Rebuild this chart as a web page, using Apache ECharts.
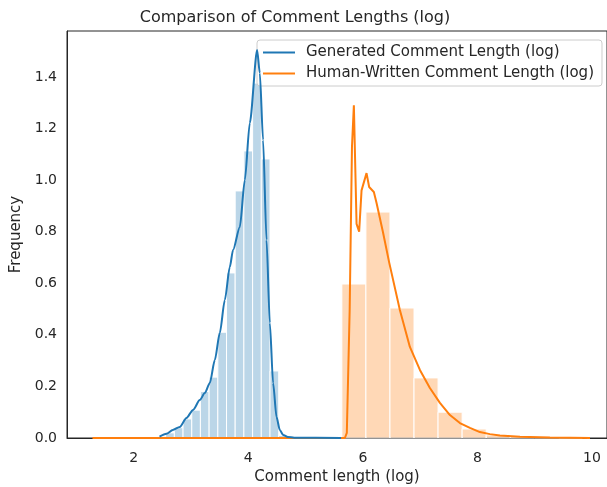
<!DOCTYPE html>
<html>
<head>
<meta charset="utf-8">
<script src="https://cdn.jsdelivr.net/npm/echarts@6/dist/echarts.min.js"></script>
<style>
  html, body { margin: 0; padding: 0; background: #fff; }
  #main { width: 607px; height: 487px; }
</style>
</head>
<body>
<div id="main"></div>
<script>
// histogram bins (edges) and heights
var blueEdges = [2.406, 2.557, 2.709, 2.861, 3.013, 3.164, 3.316, 3.468, 3.620, 3.771, 3.923, 4.075, 4.227, 4.379, 4.531, 4.682];
var blueFreq = [0.005, 0.02, 0.04, 0.074, 0.108, 0.18, 0.236, 0.41, 0.64, 0.958, 1.113, 1.376, 1.082, 0.26, 0.01];
var orangeEdges = [5.633, 6.053, 6.473, 6.893, 7.313, 7.733, 8.153, 8.573, 8.993, 9.413, 9.833];
var orangeFreq = [0.597, 0.876, 0.504, 0.233, 0.10, 0.035, 0.012, 0.005, 0.002, 0.001];

// density curves
var blueX = [2.45, 2.571, 2.681, 2.803, 2.921, 3.036, 3.153, 3.240, 3.328, 3.415, 3.502, 3.590, 3.677, 3.734, 3.852, 3.939, 4.026, 4.154, 4.201, 4.258, 4.318, 4.376, 4.433, 4.493, 4.550, 4.608, 4.690, 4.8, 5.62];
var blueY = [0.005, 0.016, 0.031, 0.043, 0.078, 0.109, 0.147, 0.174, 0.213, 0.302, 0.407, 0.535, 0.663, 0.729, 0.818, 1.0, 1.221, 1.504, 1.415, 1.155, 0.768, 0.446, 0.213, 0.081, 0.031, 0.012, 0.004, 0.001, 0];
var orangeX = [1.28, 5.686, 5.72, 5.77, 5.81, 5.843, 5.858, 5.89, 5.935, 5.977, 6.064, 6.11, 6.192, 6.24, 6.354, 6.46, 6.646, 6.821, 6.996, 7.17, 7.345, 7.52, 7.694, 7.869, 8.043, 8.218, 8.393, 8.742, 9.266, 9.965];
var orangeY = [0, 0, 0.02, 0.5, 1.13, 1.29, 1.29, 0.83, 0.8, 0.96, 1.027, 0.973, 0.954, 0.91, 0.795, 0.68, 0.496, 0.353, 0.264, 0.194, 0.136, 0.089, 0.058, 0.039, 0.023, 0.015, 0.01, 0.005, 0.002, 0];

var xTicks = [2, 4, 6, 8, 10];
var names = ['Generated Comment Length (log)', 'Human-Written Comment Length (log)'];

var font = 'DejaVu Sans';
var ink = '#262626';

function bins(edges, freq) {
  var out = [];
  for (var i = 0; i < freq.length; i++) out.push([edges[i], edges[i + 1], freq[i]]);
  return out;
}
function pairs(xs, ys) {
  var out = [];
  for (var i = 0; i < xs.length; i++) out.push([xs[i], ys[i]]);
  return out;
}
function histItem(fill) {
  return function (params, api) {
    var p0 = api.coord([api.value(0), api.value(2)]);
    var p1 = api.coord([api.value(1), 0]);
    return {
      type: 'rect',
      shape: { x: p0[0], y: p0[1], width: p1[0] - p0[0], height: p1[1] - p0[1] },
      style: { fill: fill, stroke: '#fff', lineWidth: 1 }
    };
  };
}

var myChart = echarts.init(document.getElementById('main'));
var option = {
  animation: false,
  textStyle: { fontFamily: font },
  title: {
    text: 'Comparison of Comment Lengths (log)',
    left: 290, top: 5, textAlign: 'center',
    textStyle: { fontFamily: font, fontSize: 16, fontWeight: 'normal', color: ink }
  },
  legend: {
    orient: 'vertical',
    left: 257, top: 40,
    data: names,
    icon: 'rect',
    itemWidth: 32, itemHeight: 2, itemGap: 6,
    padding: [5, 8, 5, 6],
    borderColor: '#cccccc', borderWidth: 1, borderRadius: 3,
    backgroundColor: 'rgba(255,255,255,0.8)',
    textStyle: { fontFamily: font, fontSize: 15, color: ink, padding: [0, 0, 0, 6] }
  },
  grid: { left: 67, right: 0, top: 31, bottom: 49, show: true, borderColor: ink, borderWidth: 1, containLabel: false, outerBoundsMode: 'none' },
  xAxis: {
    type: 'value', min: 0.835, max: 10.262,
    name: 'Comment length (log)', nameLocation: 'middle', nameGap: 31,
    nameTextStyle: { fontFamily: font, fontSize: 15, color: ink },
    axisLine: { show: true, lineStyle: { color: ink, width: 1 } },
    axisTick: { show: false },
    splitLine: { show: false },
    axisLabel: { customValues: xTicks, fontFamily: font, fontSize: 14, color: ink, margin: 13 }
  },
  yAxis: {
    type: 'value', min: 0, max: 1.578, interval: 0.2,
    name: 'Frequency', nameLocation: 'middle', nameGap: 41,
    nameTextStyle: { fontFamily: font, fontSize: 15, color: ink },
    axisLine: { show: true, lineStyle: { color: ink, width: 1 } },
    axisTick: { show: false },
    splitLine: { show: false },
    axisLabel: {
      fontFamily: font, fontSize: 14, color: ink, margin: 10,
      showMaxLabel: false,
      formatter: function (v) { return v.toFixed(1); }
    }
  },
  series: [
    { type: 'custom', name: 'hist1', renderItem: histItem('rgba(31,119,180,0.3)'), encode: { x: [0, 1], y: 2 }, data: bins(blueEdges, blueFreq), z: 1 },
    { type: 'custom', name: 'hist2', renderItem: histItem('rgba(255,127,14,0.3)'), encode: { x: [0, 1], y: 2 }, data: bins(orangeEdges, orangeFreq), z: 1 },
    { type: 'line', name: names[1], data: pairs(orangeX, orangeY), showSymbol: false, smooth: false, color: '#ff7f0e', lineStyle: { width: 2, color: '#ff7f0e' }, z: 3 },
    { type: 'line', name: names[0], data: pairs(blueX, blueY), showSymbol: false, smooth: 0.25, smoothMonotone: 'x', color: '#1f77b4', lineStyle: { width: 2, color: '#1f77b4' }, z: 4 }
  ]
};
myChart.setOption(option);
</script>
</body>
</html>
